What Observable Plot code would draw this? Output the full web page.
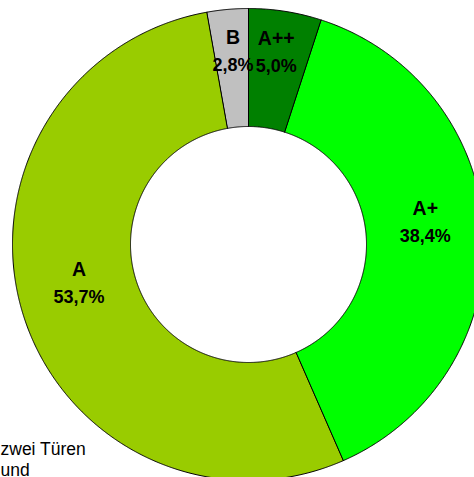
<!DOCTYPE html>
<html>
<head>
<meta charset="utf-8">
<script src="https://cdn.jsdelivr.net/npm/d3@7"></script>
<script src="https://cdn.jsdelivr.net/npm/@observablehq/plot@0.6"></script>
<style>
  html, body { margin: 0; padding: 0; background: #ffffff; }
  #chart { width: 474px; height: 477px; overflow: hidden; }
</style>
</head>
<body>
<div id="chart"></div>
<script>
// ---- data ----
const categories = ["A++", "A+", "A", "B"];
const shares = [5.0, 38.4, 53.7, 2.8];
const colors = ["#008000", "#00ff00", "#99cc00", "#c0c0c0"];
const captionLines = ["zwei Türen", "und"];

// ---- layout ----
const W = 474, H = 477;
const cx = 248, cy = 244, R = 236;
const innerFrac = 118 / 236;
const labelFracX = 0.75, labelFracY = 0.765;

const pie = d3.pie().sort(null).value(d => d.share);
const arcs = pie(categories.map((c, i) => ({cat: c, share: shares[i]})));

// annular polygons (unit radius space)
const slicePts = [];
for (const a of arcs) {
  const n = Math.max(4, Math.ceil((a.endAngle - a.startAngle) / (Math.PI / 720)));
  for (let k = 0; k <= n; k++) {
    const t = a.startAngle + (a.endAngle - a.startAngle) * k / n;
    slicePts.push({cat: a.data.cat, x: Math.sin(t), y: Math.cos(t)});
  }
  for (let k = n; k >= 0; k--) {
    const t = a.startAngle + (a.endAngle - a.startAngle) * k / n;
    slicePts.push({cat: a.data.cat, x: innerFrac * Math.sin(t), y: innerFrac * Math.cos(t)});
  }
}

const labels = arcs.map(a => {
  const m = (a.startAngle + a.endAngle) / 2;
  return {
    cat: a.data.cat,
    pct: a.data.share.toFixed(1).replace(".", ",") + "%",
    x: labelFracX * Math.sin(m),
    y: labelFracY * Math.cos(m)
  };
});

const font = "'Liberation Sans', Arial, sans-serif";

const chart = Plot.plot({
  width: W,
  height: H,
  margin: 0,
  style: {background: "#ffffff", fontFamily: font, overflow: "hidden"},
  x: {domain: [-cx / R, (W - cx) / R], range: [0, W], axis: null},
  y: {domain: [-(H - cy) / R, cy / R], range: [H, 0], axis: null},
  color: {domain: categories, range: colors},
  marks: [
    Plot.line(slicePts, {
      x: "x", y: "y", z: "cat", fill: "cat",
      stroke: "#000000", strokeWidth: 1, curve: "linear-closed"
    }),
    Plot.text(labels, {
      x: "x", y: "y", text: "cat", dy: -21, lineAnchor: "bottom",
      fontSize: 19.5, fontWeight: "bold", fill: "#000000", fontFamily: font
    }),
    Plot.text(labels, {
      x: "x", y: "y", text: "pct", dy: 6, lineAnchor: "bottom",
      fontSize: 18, fontWeight: "bold", fill: "#000000", fontFamily: font
    }),
    Plot.text([captionLines.join("\n")], {
      frameAnchor: "bottom-left", text: d => d, dy: -2, dx: 0,
      lineHeight: 1.19, fontSize: 17.5, fill: "#000000", fontFamily: font
    })
  ]
});

document.getElementById("chart").appendChild(chart);
</script>
</body>
</html>
